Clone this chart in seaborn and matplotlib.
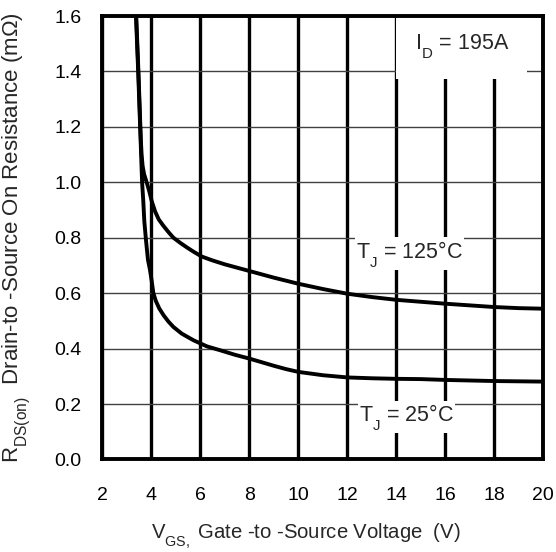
import matplotlib
matplotlib.use("Agg")
import matplotlib.pyplot as plt
import seaborn as sns
import pandas as pd

try:
    import matplotlib._mathtext as _mt
    _mt.FontConstantsBase.sub1 = 0.75
except Exception:
    pass

# ---- data ----
vgs_25 = [3.30, 3.37, 3.46, 3.54, 3.58, 3.62, 3.67, 3.71, 3.78, 3.86, 3.94, 4.01, 4.08, 4.18,
          4.32, 4.50, 4.70, 4.90, 5.24, 5.72, 6.27, 6.81, 7.4, 8.0, 8.5, 9.0, 9.5, 10.0, 11.0,
          12.0, 13.0, 14.0, 15.0, 16.0, 17.0, 18.0, 19.0, 20.0]
rds_25 = [1.70, 1.60, 1.40, 1.20, 1.10, 1.00, 0.93, 0.86, 0.79, 0.72, 0.685, 0.645, 0.600,
          0.572, 0.545, 0.520, 0.497, 0.478, 0.454, 0.430, 0.408, 0.394, 0.378, 0.364, 0.351,
          0.338, 0.326, 0.316, 0.304, 0.296, 0.293, 0.291, 0.290, 0.287, 0.285, 0.283, 0.282,
          0.281]

vgs_125 = [3.30, 3.38, 3.47, 3.55, 3.57, 3.60, 3.64, 3.70, 3.77, 3.84, 3.92, 4.01, 4.15, 4.30,
           4.49, 4.70, 4.90, 5.17, 5.45, 5.75, 6.06, 6.5, 7.0, 8.0, 9.0, 10.0, 11.0, 12.0, 13.0,
           14.0, 15.0, 16.0, 17.0, 18.0, 19.0, 20.0]
rds_125 = [1.70, 1.60, 1.40, 1.20, 1.15, 1.10, 1.06, 1.03, 1.01, 0.99, 0.965, 0.933, 0.895,
           0.866, 0.843, 0.820, 0.800, 0.782, 0.765, 0.748, 0.732, 0.718, 0.704, 0.680, 0.656,
           0.634, 0.615, 0.598, 0.586, 0.576, 0.569, 0.562, 0.556, 0.550, 0.546, 0.544]

x_ticks = [2, 4, 6, 8, 10, 12, 14, 16, 18, 20]
y_ticks = [0.0, 0.2, 0.4, 0.6, 0.8, 1.0, 1.2, 1.4, 1.6]
y_tick_labels = ["0.0", "0.2", "0.4", "0.6", "0.8", "1.0", "1.2", "1.4", "1.6"]

label_id = "I$_\\mathregular{D}$ = 195A"
label_125 = "T$_\\mathregular{J}$ = 125°C"
label_25 = "T$_\\mathregular{J}$ = 25°C"

df25 = pd.DataFrame({"vgs": vgs_25, "rds": rds_25})
df125 = pd.DataFrame({"vgs": vgs_125, "rds": rds_125})

sns.set_style("white")
plt.rcParams["font.family"] = ["Liberation Sans", "DejaVu Sans"]
plt.rcParams["mathtext.fontset"] = "custom"
plt.rcParams["mathtext.rm"] = "Liberation Sans"
plt.rcParams["mathtext.it"] = "Liberation Sans"
plt.rcParams["mathtext.default"] = "regular"

fig = plt.figure(figsize=(5.56, 5.52), dpi=100)
ax = fig.add_axes([0.1842, 0.1676, 0.7930, 0.8034])

sns.lineplot(data=df125, x="vgs", y="rds", ax=ax, color="black", linewidth=2.8, sort=False, zorder=3)
sns.lineplot(data=df25, x="vgs", y="rds", ax=ax, color="black", linewidth=2.8, sort=False, zorder=3)

ax.set_xlim(2, 20)
ax.set_ylim(0, 1.6)
ax.set_xticks(x_ticks)
ax.set_yticks(y_ticks)
ax.set_yticklabels(y_tick_labels)
ax.set_axisbelow(True)
ax.grid(axis="x", color="black", linewidth=2.4)
ax.grid(axis="y", color="#404040", linewidth=1.0)
ax.tick_params(axis="both", length=0, labelsize=14, colors="black")
ax.tick_params(axis="x", pad=20)
ax.tick_params(axis="y", pad=15)

for s in ax.spines.values():
    s.set_visible(True)
    s.set_color("black")
    s.set_linewidth(2.8)
    s.set_zorder(4)

ax.set_xlabel("V$_\\mathregular{GS,}$ Gate -to -Source Voltage  (V)", fontsize=14.6)
ax.set_ylabel("R$_\\mathregular{DS(on)}$  Drain-to -Source On Resistance (mΩ)", fontsize=16)
ax.xaxis.set_label_coords(0.462, -0.141)
ax.yaxis.set_label_coords(-0.16, 0.5)

ax.text(16.67, 1.49, label_id, fontsize=15.5, ha="center", va="center", zorder=2.2,
        bbox=dict(facecolor="white", edgecolor="none", boxstyle="square,pad=0.85"))
ax.text(14.54, 0.743, label_125, fontsize=15.5, ha="center", va="center", zorder=2.2,
        bbox=dict(facecolor="white", edgecolor="none", boxstyle="square,pad=0.05"))
ax.text(14.41, 0.153, label_25, fontsize=15.5, ha="center", va="center", zorder=2.2,
        bbox=dict(facecolor="white", edgecolor="none", boxstyle="square,pad=0.05"))

fig.savefig("out.png", dpi=100)
